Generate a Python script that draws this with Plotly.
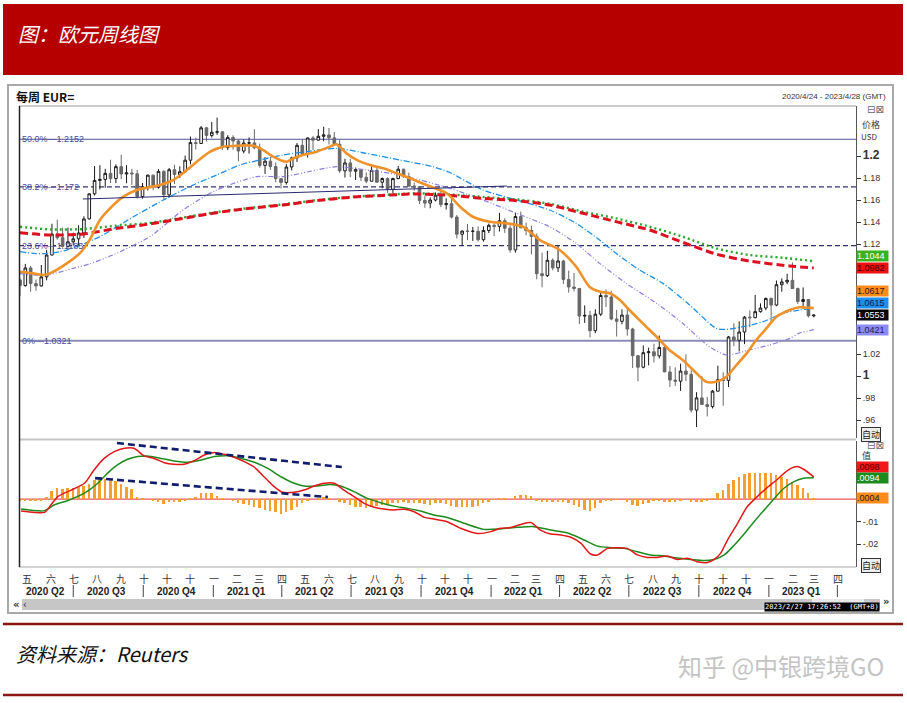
import numpy as np
import pandas as pd
import plotly.graph_objects as go

W, H = 907, 703

# ---------------- data ----------------
start = pd.Timestamp('2020-04-24')
first_open = 1.0873
closes = [1.0822,1.0982,1.0840,1.0819,1.0901,1.1100,1.1290,1.1257,1.1178,1.1220,
          1.1247,1.1300,1.1428,1.1656,1.1778,1.1787,1.1842,1.1795,1.1903,1.1837,
          1.1846,1.1838,1.1631,1.1716,1.1826,1.1717,1.1860,1.1647,1.1875,1.1832,
          1.1857,1.1962,1.2122,1.2114,1.2256,1.2187,1.2216,1.2220,1.2077,1.2169,
          1.2136,1.2045,1.2118,1.2119,1.2075,1.1915,1.1953,1.1904,1.1794,1.1760,
          1.1900,1.1983,1.2097,1.2019,1.2164,1.2144,1.2179,1.2192,1.2165,1.2106,
          1.1865,1.1937,1.1862,1.1876,1.1806,1.1771,1.1870,1.1762,1.1795,1.1697,
          1.1795,1.1880,1.1813,1.1726,1.1720,1.1596,1.1572,1.1600,1.1644,1.1558,
          1.1567,1.1445,1.1289,1.1318,1.1315,1.1316,1.1239,1.1323,1.1370,1.1360,
          1.1411,1.1344,1.1146,1.1450,1.1348,1.1323,1.1269,1.0930,1.0912,1.1052,
          1.0983,1.1046,1.0878,1.0809,1.0796,1.0545,1.0551,1.0412,1.0562,1.0732,
          1.0719,1.0518,1.0497,1.0554,1.0427,1.0185,1.0080,1.0212,1.0220,1.0183,
          1.0259,1.0037,0.9963,0.9953,1.0045,1.0015,0.9690,0.9801,0.9741,0.9722,
          0.9862,0.9966,0.9960,1.0355,1.0325,1.0400,1.0535,1.0530,1.0585,1.0618,
          1.0705,1.0645,1.0830,1.0855,1.0870,1.0795,1.0677,1.0695,1.0547,1.0553]
highs = [1.0887,1.1019,1.1000,1.0877,1.1009,1.1147,1.1384,1.1422,1.1349,1.1349,
         1.1303,1.1371,1.1452,1.1660,1.1909,1.1916,1.1883,1.1966,1.1924,1.2011,
         1.1917,1.1883,1.1873,1.1755,1.1831,1.1830,1.1881,1.1870,1.1891,1.1920,
         1.1906,1.2004,1.2177,1.2167,1.2273,1.2265,1.2310,1.2349,1.2223,1.2189,
         1.2189,1.2150,1.2150,1.2169,1.2243,1.2113,1.1990,1.1989,1.1942,1.1795,
         1.1928,1.1994,1.2117,1.2150,1.2168,1.2181,1.2245,1.2266,1.2255,1.2218,
         1.2146,1.1975,1.1975,1.1895,1.1880,1.1850,1.1909,1.1900,1.1805,1.1806,
         1.1802,1.1909,1.1884,1.1849,1.1758,1.1725,1.1640,1.1624,1.1669,1.1692,
         1.1616,1.1610,1.1464,1.1323,1.1382,1.1355,1.1360,1.1360,1.1386,1.1386,
         1.1483,1.1434,1.1369,1.1483,1.1495,1.1395,1.1367,1.1295,1.1121,1.1137,
         1.1070,1.1185,1.1055,1.0958,1.0936,1.0800,1.0642,1.0593,1.0607,1.0765,
         1.0787,1.0774,1.0601,1.0606,1.0615,1.0438,1.0187,1.0278,1.0258,1.0293,
         1.0368,1.0276,1.0090,1.0079,1.0113,1.0197,1.0051,0.9853,0.9999,0.9809,
         0.9873,1.0094,1.0034,1.0364,1.0481,1.0497,1.0545,1.0595,1.0737,1.0660,
         1.0713,1.0713,1.0868,1.0887,1.0929,1.1033,1.0804,1.0805,1.0700,1.0560]
lows = [1.0727,1.0812,1.0767,1.0775,1.0813,1.0870,1.1097,1.1239,1.1168,1.1168,
        1.1185,1.1186,1.1255,1.1421,1.1641,1.1696,1.1711,1.1754,1.1753,1.1789,
        1.1752,1.1737,1.1612,1.1612,1.1686,1.1689,1.1703,1.1603,1.1622,1.1745,
        1.1800,1.1846,1.1924,1.2059,1.2110,1.2131,1.2167,1.2192,1.2054,1.2053,
        1.2058,1.1952,1.2024,1.2022,1.2061,1.1894,1.1836,1.1874,1.1762,1.1704,
        1.1740,1.1869,1.1946,1.2016,1.1986,1.2052,1.2140,1.2134,1.2104,1.2092,
        1.1847,1.1804,1.1807,1.1782,1.1772,1.1752,1.1768,1.1760,1.1706,1.1664,
        1.1664,1.1788,1.1801,1.1723,1.1684,1.1563,1.1529,1.1525,1.1587,1.1535,
        1.1513,1.1432,1.1250,1.1186,1.1235,1.1228,1.1222,1.1222,1.1300,1.1272,
        1.1313,1.1301,1.1121,1.1121,1.1342,1.1280,1.1106,1.0879,1.0806,1.0900,
        1.0961,1.0945,1.0837,1.0758,1.0769,1.0472,1.0483,1.0350,1.0389,1.0545,
        1.0627,1.0506,1.0359,1.0470,1.0366,1.0072,0.9952,1.0070,1.0097,1.0123,
        1.0160,1.0035,0.9900,0.9910,0.9864,0.9955,0.9669,0.9536,0.9739,0.9632,
        0.9705,0.9861,0.9730,0.9900,1.0271,1.0223,1.0290,1.0443,1.0525,1.0576,
        1.0598,1.0483,1.0634,1.0766,1.0835,1.0794,1.0655,1.0613,1.0533,1.0533]
opens = [first_open] + closes[:-1]

# moving averages: (weeks after first bar, value)
orange_w = [0,2.5,4.4,5.6,8.8,11.3,13.1,15.0,16.9,19.4,21.9,23.8,26.3,28.8,30.6,33.2,35.7,38.1,41.3,43.8,
            45.6,47.5,50.0,51.3,53.1,55.7,58.2,59.4,61.3,63.2,65.7,68.2,70.7,73.2,76.3,80.1,82.6,85.0,88.2,91.3,
            94.4,97.6,101.3,104.4,106.9,108.8,110.7,112.6,114.4,116.9,119.5,121.9,124.4,127.0,128.8,130.7,132.6,134.5,136.4,138.2,
            140.1,142.0,144.5,146.3,149.0]
orange_v = [1.0948,1.0933,1.0918,1.0933,1.1024,1.1120,1.1240,1.1418,1.1524,1.1630,1.1691,1.1712,1.1736,1.1782,1.1843,1.1948,1.2039,1.2085,1.2094,1.2094,
            1.2055,1.1994,1.1948,1.1979,1.2009,1.2039,1.2085,1.2106,1.2024,1.1964,1.1918,1.1888,1.1843,1.1797,1.1736,1.1661,1.1539,1.1448,1.1403,1.1388,
            1.1357,1.1236,1.1145,1.0994,1.0812,1.0767,1.0752,1.0691,1.0600,1.0479,1.0357,1.0236,1.0145,1.0024,0.9948,0.9948,0.9994,1.0100,1.0206,1.0327,
            1.0433,1.0539,1.0600,1.0625,1.0617]
blue_w = [0,2.5,4.4,7.5,10.6,15.0,21.3,27.5,32.5,36.9,41.3,45.0,49.4,53.8,59.4,65.0,71.3,77.5,80.7,86.9,
          93.2,99.4,104.4,108.8,111.9,116.3,120.7,125.7,130.7,132.6,135.7,139.5,143.2,146.3,149.0]
blue_v = [1.1130,1.1115,1.1112,1.1130,1.1176,1.1267,1.1448,1.1615,1.1736,1.1827,1.1918,1.1964,1.2009,1.2039,1.2070,1.2024,1.1964,1.1903,1.1850,1.1691,
          1.1600,1.1509,1.1388,1.1236,1.1115,1.0964,1.0842,1.0645,1.0433,1.0424,1.0448,1.0494,1.0570,1.0600,1.0615]
purple_w = [0,5.0,10.0,13.1,17.4,24.4,30.6,36.9,44.4,49.4,55.7,59.4,65.0,71.3,80.7,86.9,93.2,99.4,104.4,108.8,
            113.8,119.5,124.4,129.4,132.6,136.9,140.7,144.5,146.3,149.0]
purple_v = [1.0930,1.0918,1.0979,1.1020,1.1100,1.1267,1.1509,1.1691,1.1812,1.1812,1.1873,1.1903,1.1873,1.1827,1.1706,1.1600,1.1479,1.1357,1.1206,1.1024,
            1.0842,1.0660,1.0479,1.0267,1.0191,1.0236,1.0282,1.0342,1.0390,1.0421]
red_ma_w = [0,5.6,11.9,18.1,24.4,30.6,36.9,43.2,49.4,55.7,61.9,68.2,74.4,80.7,86.9,93.2,99.4,105.7,111.9,118.2,
            124.4,130.7,136.9,144.5,149.0]
red_ma_v = [1.1303,1.1282,1.1291,1.1342,1.1382,1.1433,1.1485,1.1524,1.1555,1.1594,1.1624,1.1642,1.1655,1.1642,1.1615,1.1594,1.1555,1.1479,1.1403,1.1327,
            1.1215,1.1108,1.1045,1.1000,1.0982]
green_ma_w = [0,5.6,11.9,18.1,24.4,30.6,36.9,43.2,49.4,55.7,61.9,68.2,74.4,80.7,86.9,93.2,99.4,105.7,111.9,118.2,
              124.4,130.7,136.9,143.2,149.0]
green_ma_v = [1.1357,1.1333,1.1336,1.1367,1.1392,1.1440,1.1490,1.1528,1.1560,1.1598,1.1627,1.1646,1.1660,1.1650,1.1628,1.1605,1.1566,1.1494,1.1433,1.1357,
              1.1267,1.1160,1.1100,1.1075,1.1044]

fib_levels = [1.2152, 1.172, 1.1185, 1.0321]
fib_pcts = ['50.0%', '38.2%', '23.6%', '0%']
trend_w = [11.8, 91.4]
trend_v = [1.1609, 1.1727]

# MACD
macd_w = [0.2,2.7,4.6,5.8,7.1,9.6,12.1,13.9,15.8,17.7,19.6,21.4,23.3,25.2,27.1,28.9,30.8,32.7,34.6,36.5,
          38.3,40.2,42.1,44.0,45.8,47.7,49.3,51.5,53.3,55.2,57.1,59.0,60.8,62.7,64.6,66.5,68.3,70.2,72.1,74.0,
          75.9,77.7,80.2,82.7,85.9,88.4,90.2,92.1,94.0,95.9,97.7,99.6,101.5,103.4,105.3,107.1,108.4,110.3,112.1,114.0,
          115.9,117.8,119.6,121.5,123.4,125.3,127.1,129.0,130.3,131.5,132.8,134.7,136.5,138.4,140.3,142.2,143.4,144.7,145.9,147.1,149.0]
macd_v = [-0.0053,-0.0059,-0.0059,-0.0026,0.0011,0.0040,0.0070,0.0129,0.0180,0.0210,0.0225,0.0225,0.0191,0.0180,0.0161,0.0154,0.0154,0.0170,0.0195,0.0206,
          0.0198,0.0185,0.0166,0.0141,0.0099,0.0055,0.0030,0.0030,0.0040,0.0058,0.0070,0.0070,0.0040,0.0011,-0.0019,-0.0036,-0.0044,-0.0048,-0.0045,-0.0056,
          -0.0081,-0.0088,-0.0100,-0.0129,-0.0152,-0.0144,-0.0129,-0.0126,-0.0112,-0.0104,-0.0137,-0.0154,-0.0159,-0.0169,-0.0196,-0.0243,-0.0247,-0.0218,-0.0215,-0.0218,
          -0.0247,-0.0258,-0.0258,-0.0252,-0.0267,-0.0262,-0.0277,-0.0281,-0.0267,-0.0240,-0.0181,-0.0107,-0.0034,0.0011,0.0052,0.0088,0.0114,0.0136,0.0144,0.0132,0.0098]
signal_w = [0.2,4.6,6.4,8.9,12.1,14.6,16.4,18.3,20.2,22.1,23.9,26.5,28.9,31.5,34.0,36.5,39.0,41.5,44.0,46.5,
            49.0,51.5,53.3,55.8,58.3,60.2,62.7,65.2,67.7,70.2,72.7,75.2,77.7,80.2,83.4,87.1,90.2,93.4,96.5,99.6,
            102.7,105.9,108.4,110.9,113.4,115.9,118.4,120.9,123.4,125.9,128.4,130.3,132.2,134.1,136.0,137.8,139.7,141.6,143.4,145.3,147.1,149.0]
signal_v = [-0.0044,-0.0051,-0.0026,-0.0007,0.0026,0.0070,0.0114,0.0151,0.0176,0.0188,0.0191,0.0180,0.0169,0.0163,0.0173,0.0188,0.0192,0.0180,0.0163,0.0136,
            0.0099,0.0070,0.0058,0.0058,0.0065,0.0058,0.0033,0.0003,-0.0016,-0.0031,-0.0041,-0.0053,-0.0070,-0.0081,-0.0107,-0.0134,-0.0132,-0.0125,-0.0122,-0.0137,
            -0.0149,-0.0181,-0.0208,-0.0215,-0.0218,-0.0233,-0.0247,-0.0252,-0.0261,-0.0267,-0.0272,-0.0267,-0.0247,-0.0203,-0.0152,-0.0100,-0.0048,0.0003,0.0048,0.0077,0.0092,0.0094]
hist_v = [-0.0007,-0.0007,-0.0006,-0.0007,-0.0007,0.0010,0.0035,0.0047,0.0043,0.0047,
          0.0047,0.0052,0.0058,0.0069,0.0084,0.0087,0.0087,0.0084,0.0080,0.0066,
          0.0052,0.0043,0.0010,0.0001,0.0000,-0.0007,-0.0012,-0.0022,-0.0015,-0.0015,
          -0.0015,-0.0007,0.0003,0.0010,0.0025,0.0028,0.0025,0.0015,0.0001,0.0000,
          -0.0007,-0.0016,-0.0022,-0.0027,-0.0034,-0.0041,-0.0049,-0.0053,-0.0056,-0.0066,
          -0.0056,-0.0046,-0.0034,-0.0019,-0.0007,0.0000,0.0006,0.0010,0.0006,0.0000,
          -0.0012,-0.0019,-0.0027,-0.0034,-0.0037,-0.0041,-0.0037,-0.0031,-0.0027,-0.0022,
          -0.0019,-0.0016,-0.0012,-0.0016,-0.0019,-0.0019,-0.0022,-0.0027,-0.0019,-0.0016,
          -0.0022,
          -0.0031,-0.0037,-0.0037,-0.0034,-0.0034,-0.0031,-0.0019,-0.0012,-0.0004,0.0006,
          0.0006,0.0000,0.0013,0.0018,0.0018,0.0013,-0.0007,-0.0015,-0.0012,-0.0012,
          -0.0015,-0.0015,-0.0019,-0.0027,-0.0037,-0.0046,-0.0052,-0.0041,-0.0019,-0.0007,
          -0.0007,-0.0004,0.0000,-0.0012,-0.0027,-0.0031,-0.0022,-0.0016,-0.0007,-0.0007,
          -0.0012,-0.0015,-0.0012,-0.0007,0.0000,-0.0012,-0.0012,-0.0012,-0.0007,0.0003,
          0.0025,0.0040,0.0066,0.0084,0.0099,0.0111,0.0114,0.0117,0.0117,0.0117,
          0.0114,0.0106,0.0099,0.0087,0.0077,0.0062,0.0047,0.0025,0.0004]
macd_trend_upper_w = [18.2, 60.4]
macd_trend_upper_v = [0.0248, 0.0142]
macd_trend_lower_w = [14.1, 57.8]
macd_trend_lower_v = [0.0093, 0.0009]

month_cn = {1:'一',2:'二',3:'三',4:'四',5:'五',6:'六',7:'七',8:'八',9:'九',10:'十',11:'十',12:'十'}
quarter_labels = ['2020 Q2','2020 Q3','2020 Q4','2021 Q1','2021 Q2','2021 Q3',
                  '2021 Q4','2022 Q1','2022 Q2','2022 Q3','2022 Q4','2023 Q1']

price_ticks = [0.96, 0.98, 1.0, 1.02, 1.04, 1.06, 1.08, 1.10, 1.12, 1.14, 1.16, 1.18, 1.2]
price_text = ['.96', '.98', '<span style="font-size:12px"><b>1</b></span>', '1.02', '', '', '', '',
              '1.12', '1.14', '1.16', '1.18', '<span style="font-size:12px"><b>1.2</b></span>']
macd_ticks = [0.01, 0, -0.01, -0.02]
macd_text = ['', '', '-.01', '-.02']

# ---------------- helpers ----------------
def X(px):
    return px / W

def Y(py):
    return 1 - py / H

def wk(w):
    return [start + pd.Timedelta(days=7 * float(v)) for v in w]

dates = [start + pd.Timedelta(days=7 * i) for i in range(len(closes))]
x_range = [start - pd.Timedelta(days=1.3), start + pd.Timedelta(days=1098.5)]

fig = go.Figure()

fig.add_trace(go.Candlestick(
    x=dates, open=opens, high=highs, low=lows, close=closes,
    increasing=dict(line=dict(color='#1a1a1a', width=1), fillcolor='white'),
    decreasing=dict(line=dict(color='#686868', width=1), fillcolor='#686868'),
    whiskerwidth=0, xaxis='x', yaxis='y', showlegend=False))

def line_trace(w, v, color, width, dash, xa='x', ya='y'):
    return go.Scatter(x=wk(w), y=v, mode='lines', xaxis=xa, yaxis=ya,
                      line=dict(color=color, width=width, dash=dash, shape='spline', smoothing=0.7),
                      showlegend=False, hoverinfo='skip')

fig.add_trace(line_trace(purple_w, purple_v, '#8a7fe0', 1.2, '5px,2px,1px,2px,1px,2px'))
fig.add_trace(line_trace(blue_w, blue_v, '#1c8fe6', 1.3, '6px,2px,1px,2px'))
fig.add_trace(line_trace(green_ma_w, green_ma_v, '#2aa52a', 2.4, '2px,3px'))
fig.add_trace(line_trace(red_ma_w, red_ma_v, '#dd1020', 3, '8px,4px'))
fig.add_trace(line_trace(orange_w, orange_v, '#f0922a', 2.6, 'solid'))

fig.add_trace(go.Bar(x=dates, y=hist_v, xaxis='x2', yaxis='y2', marker=dict(color='#f4a030', line=dict(width=0)),
                     width=2.6 * 86400000, showlegend=False, hoverinfo='skip'))
fig.add_trace(line_trace(signal_w, signal_v, '#1d8a1d', 1.5, 'solid', 'x2', 'y2'))
fig.add_trace(line_trace(macd_w, macd_v, '#e01818', 1.5, 'solid', 'x2', 'y2'))

shapes = []
annotations = []

# header
shapes.append(dict(type='rect', xref='paper', yref='paper', x0=X(3), x1=X(903), y0=Y(75), y1=Y(4),
                   fillcolor='#b60000', line=dict(width=0), layer='below'))
annotations.append(dict(xref='paper', yref='paper', x=X(16), y=Y(33), xanchor='left', yanchor='middle',
                        text='<i>图：欧元周线图</i>', showarrow=False,
                        font=dict(family='Noto Sans CJK SC', size=20, color='white')))

# chart panel frame
shapes.append(dict(type='rect', xref='paper', yref='paper', x0=X(8), x1=X(893), y0=Y(613), y1=Y(85),
                   line=dict(color='#a9a9a9', width=2), layer='below'))
annotations.append(dict(xref='paper', yref='paper', x=X(14), y=Y(96), xanchor='left', yanchor='middle',
                        text='<b>每周 EUR=</b>', showarrow=False,
                        font=dict(family='Noto Sans CJK SC', size=12, color='#111')))
annotations.append(dict(xref='paper', yref='paper', x=X(888), y=Y(97), xanchor='right', yanchor='middle',
                        text='2020/4/24 - 2023/4/28 (GMT)', showarrow=False,
                        font=dict(family='Liberation Sans', size=8, color='#333')))

for (x0, y0, x1, y1, c, wdt) in [(19, 106, 856, 106, '#bdbdbd', 1.5), (19, 439.5, 856, 439.5, '#c6c6c6', 2),
                                  (19, 567, 856, 567, '#c6c6c6', 1.5), (19.5, 106, 19.5, 567, '#222', 1.5)]:
    shapes.append(dict(type='line', xref='paper', yref='paper', x0=X(x0), x1=X(x1), y0=Y(y0), y1=Y(y1),
                       line=dict(color=c, width=wdt)))

# fibonacci levels
fib_styles = [('#55559a', 1, 'solid'), ('#333377', 1.2, '5px,3px'), ('#333377', 1.2, '5px,3px'), ('#8c8cb8', 2, 'solid')]
for lvl, pct, (c, wdt, dsh) in zip(fib_levels, fib_pcts, fib_styles):
    shapes.append(dict(type='line', xref='x domain', yref='y', x0=0, x1=1, y0=lvl, y1=lvl,
                       line=dict(color=c, width=wdt, dash=dsh), layer='below'))
    annotations.append(dict(xref='paper', yref='y', x=X(20), y=lvl, xanchor='left', yanchor='middle',
                            text=f'{pct}—{lvl}', showarrow=False,
                            font=dict(family='Liberation Sans', size=9, color='#4a4a9c')))

tw = wk(trend_w)
shapes.append(dict(type='line', xref='x', yref='y', x0=tw[0], x1=tw[1], y0=trend_v[0], y1=trend_v[1],
                   line=dict(color='#2a2a70', width=1)))

shapes.append(dict(type='line', xref='x2 domain', yref='y2', x0=0, x1=1, y0=0, y1=0,
                   line=dict(color='#e03030', width=1), layer='below'))
for ww, vv in [(macd_trend_upper_w, macd_trend_upper_v), (macd_trend_lower_w, macd_trend_lower_v)]:
    d = wk(ww)
    shapes.append(dict(type='line', xref='x2', yref='y2', x0=d[0], x1=d[1], y0=vv[0], y1=vv[1],
                       line=dict(color='#101c6e', width=2.6, dash='7px,4px')))

def stack(values, gap):
    order = sorted(range(len(values)), key=lambda i: values[i])
    adj = [None] * len(values)
    prev = None
    for i in order:
        v = values[i]
        if prev is not None and v < prev + gap:
            v = prev + gap
        adj[i] = v
        prev = v
    return adj

price_tags = [green_ma_v[-1], red_ma_v[-1], orange_v[-1], blue_v[-1], closes[-1], purple_v[-1]]
price_tag_style = [('#3fb01e', 'white'), ('#f01010', '#400000'), ('#ff8c1a', '#222'),
                   ('#1e8ff0', '#102040'), ('#000000', 'white'), ('#8c8cf5', '#202050')]
p_adj = stack(price_tags, 12 / 1100)
for v, a, (bg, fc) in zip(price_tags, p_adj, price_tag_style):
    annotations.append(dict(xref='paper', yref='y', x=X(856), y=a, xanchor='left', yanchor='middle',
                            text=f'{v:.4f}', showarrow=False, bgcolor=bg, width=31, height=10, align='left',
                            borderpad=0, font=dict(family='Liberation Sans', size=9, color=fc)))

macd_tags = [macd_v[-1], signal_v[-1], hist_v[-1]]
macd_tag_style = [('#f01818', '#5a0000'), ('#1d8a1d', 'white'), ('#ff8c1a', '#222')]
m_adj = stack(macd_tags, 11 / 2260)
for v, a, (bg, fc) in zip(macd_tags, m_adj, macd_tag_style):
    annotations.append(dict(xref='paper', yref='y2', x=X(856), y=a, xanchor='left', yanchor='middle',
                            text=f'{v:.4f}'.lstrip('0'), showarrow=False, bgcolor=bg, width=31, height=10,
                            align='left', borderpad=0, font=dict(family='Liberation Sans', size=9, color=fc)))

for txt, px, py, sz in [('价格', 861, 124, 9), ('USD', 860, 136, 8), ('值', 861, 455, 9)]:
    annotations.append(dict(xref='paper', yref='paper', x=X(px), y=Y(py), xanchor='left', yanchor='middle',
                            text=txt, showarrow=False, borderpad=0,
                            font=dict(family='Noto Sans CJK SC', size=sz, color='#333')))
for py in [109, 445]:
    annotations.append(dict(xref='paper', yref='paper', x=X(866), y=Y(py), xanchor='left', yanchor='middle',
                            text='⊟⊠', showarrow=False, borderpad=0,
                            font=dict(family='DejaVu Sans', size=10, color='#666')))
for py in [434, 565]:
    annotations.append(dict(xref='paper', yref='paper', x=X(861), y=Y(py), xanchor='left', yanchor='middle',
                            text='自动', showarrow=False, bgcolor='#eeeeee', bordercolor='#333', borderwidth=1,
                            borderpad=0, font=dict(family='Noto Sans CJK SC', size=9, color='#222')))

for d in pd.date_range('2020-05-01', '2023-04-01', freq='MS'):
    annotations.append(dict(xref='x', yref='paper', x=d, y=Y(578), xanchor='center', yanchor='middle', xshift=2,
                            text=month_cn[d.month], showarrow=False,
                            font=dict(family='Noto Sans CJK SC', size=10, color='#333')))
q_starts = list(pd.date_range('2020-04-01', '2023-01-01', freq='QS'))
for i, lab in enumerate(quarter_labels):
    qs = max(q_starts[i], x_range[0])
    qe = q_starts[i] + pd.DateOffset(months=3)
    mid = qs + (qe - qs) / 2
    annotations.append(dict(xref='x', yref='paper', x=mid, y=Y(591), xanchor='center', yanchor='middle',
                            text=f'<b>{lab}</b>', showarrow=False,
                            font=dict(family='Liberation Sans', size=10, color='#222')))
    shapes.append(dict(type='line', xref='x', yref='paper', x0=qe + pd.Timedelta(days=2), x1=qe + pd.Timedelta(days=2),
                       y0=Y(585), y1=Y(597), line=dict(color='#444', width=1)))

shapes.append(dict(type='rect', xref='paper', yref='paper', x0=X(22), x1=X(880), y0=Y(610), y1=Y(599),
                   fillcolor='#c6c6c6', line=dict(width=0)))
shapes.append(dict(type='rect', xref='paper', yref='paper', x0=X(812), x1=X(864), y0=Y(603), y1=Y(599),
                   fillcolor='#e8e8e8', line=dict(width=0)))
annotations.append(dict(xref='paper', yref='paper', x=X(11), y=Y(604), xanchor='left', yanchor='middle',
                        text='<b>«</b> ‹', showarrow=False, font=dict(family='DejaVu Sans', size=10, color='#333')))
annotations.append(dict(xref='paper', yref='paper', x=X(891), y=Y(601), xanchor='right', yanchor='middle',
                        text='<b>»</b>', showarrow=False, font=dict(family='DejaVu Sans', size=10, color='#333')))
annotations.append(dict(xref='paper', yref='paper', x=X(880), y=Y(607), xanchor='right', yanchor='middle',
                        text='2023/2/27 17:26:52  (GMT+8)', showarrow=False, bgcolor='#000000', borderpad=0,
                        font=dict(family='DejaVu Sans Mono', size=7, color='white')))

for py in [624, 695]:
    shapes.append(dict(type='line', xref='paper', yref='paper', x0=X(3), x1=X(903), y0=Y(py), y1=Y(py),
                       line=dict(color='#8b1414', width=2.5)))
annotations.append(dict(xref='paper', yref='paper', x=X(14), y=Y(653), xanchor='left', yanchor='middle',
                        text='<i>资料来源：Reuters</i>', showarrow=False,
                        font=dict(family='Noto Sans CJK SC', size=20, color='#111')))
annotations.append(dict(xref='paper', yref='paper', x=X(886), y=Y(665), xanchor='right', yanchor='middle',
                        text='知乎 @中银跨境GO', showarrow=False,
                        font=dict(family='Noto Sans CJK SC', size=24, color='#c4c4c4')))

axis_common = dict(showgrid=False, zeroline=False)
fig.update_layout(
    width=W, height=H, autosize=False, margin=dict(l=0, r=0, t=0, b=0),
    paper_bgcolor='white', plot_bgcolor='white', showlegend=False, bargap=0,
    xaxis=dict(domain=[X(19), X(856)], type='date', range=x_range, showticklabels=False, ticks='',
               showline=False, rangeslider=dict(visible=False), anchor='y', **axis_common),
    yaxis=dict(domain=[Y(438), Y(106)], range=[1.12 - (438 - 244) / 1100, 1.12 + (244 - 106) / 1100],
               side='right', anchor='x', tickvals=price_ticks, ticktext=price_text, ticks='outside', ticklen=4,
               tickcolor='#333', showline=True, linecolor='#555', linewidth=1,
               tickfont=dict(family='Liberation Sans', size=9, color='#333'), **axis_common),
    xaxis2=dict(domain=[X(19), X(856)], type='date', range=x_range, matches='x', showticklabels=False, ticks='',
                showline=False, anchor='y2', **axis_common),
    yaxis2=dict(domain=[Y(567), Y(441)], range=[-(567 - 499.1) / 2260, (499.1 - 441) / 2260],
                side='right', anchor='x2', tickvals=macd_ticks, ticktext=macd_text, ticks='outside', ticklen=4,
                tickcolor='#333', showline=True, linecolor='#555', linewidth=1,
                tickfont=dict(family='Liberation Sans', size=9, color='#333'), **axis_common),
    shapes=shapes, annotations=annotations,
)

fig.write_html('out.html', config={'displayModeBar': False},
               post_script="document.body.style.margin='0px';document.body.style.overflow='hidden';")
